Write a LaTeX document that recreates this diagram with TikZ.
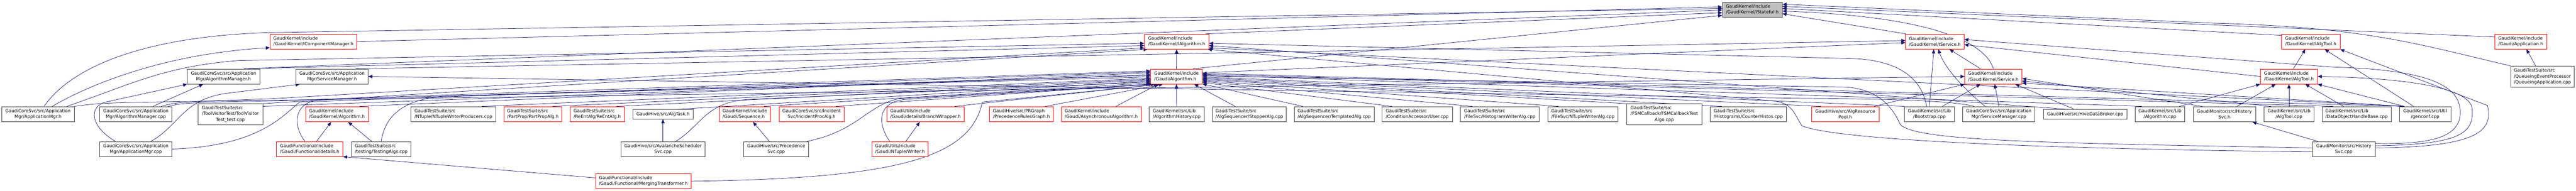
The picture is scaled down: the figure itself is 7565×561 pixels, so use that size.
\documentclass[tikz,border=0pt]{standalone}
\usepackage{fontspec}
\setmainfont{DejaVu Sans}
\usetikzlibrary{arrows.meta}
\pgfdeclarelayer{bgfill}
\pgfdeclarelayer{bg}
\pgfsetlayers{bgfill,bg,main}
\definecolor{navy}{RGB}{25,25,112}
\definecolor{bdr}{RGB}{64,64,64}
\definecolor{redb}{RGB}{255,0,0}
\definecolor{topfill}{RGB}{191,191,191}
\newcommand\lbl{\fontsize{13}{17}\selectfont}
\newcommand\gbox[7]{\node[#2, minimum width={(#5-#3)*1pt}, minimum height={(#6-#4)*1pt}] (#1) at ({(#3+#5)/2},{(#4+#6)/2}) {#7};}
\begin{document}
\begin{tikzpicture}[x=1pt,y=-1pt,
  bk/.style={draw=bdr, fill=white, line width=1pt, inner sep=0pt, font=\lbl, align=left},
  bkc/.style={bk, align=center},
  rd/.style={bk, draw=redb},
  rdc/.style={rd, align=center},
  topn/.style={bk, fill=topfill},
  edg/.style={draw=navy, line width=1.1pt, line join=round, -{Triangle[length=12pt,width=10pt]}}]
\begin{pgfonlayer}{bgfill}
\fill[white] (0,0) rectangle (7565,561);
\end{pgfonlayer}
\useasboundingbox (0,0) rectangle (7565,561);
% top
\gbox{stateful}{topn}{5058}{6}{5234}{50}{GaudiKernel/include\\/GaudiKernel/IStateful.h}
% row 2
\gbox{icm}{rd}{793}{100}{1048}{144.5}{GaudiKernel/include\\/GaudiKernel/IComponentManager.h}
\gbox{ialg}{rd}{3361}{100}{3550}{144.5}{GaudiKernel/include\\/GaudiKernel/IAlgorithm.h}
\gbox{isvc}{rd}{5596}{100}{5768}{144.5}{GaudiKernel/include\\/GaudiKernel/IService.h}
\gbox{itool}{rd}{6700}{100}{6872}{144.5}{GaudiKernel/include\\/GaudiKernel/IAlgTool.h}
\gbox{app}{rd}{7326}{100}{7479}{144.5}{GaudiKernel/include\\/Gaudi/Application.h}
% row 3
\gbox{algmgrh}{bkc}{550}{202.5}{763}{247}{GaudiCoreSvc/src/Application\\Mgr/AlgorithmManager.h}
\gbox{svcmgrh}{bkc}{869}{202.5}{1081}{247}{GaudiCoreSvc/src/Application\\Mgr/ServiceManager.h}
\gbox{galg}{rd}{3379}{202.5}{3531}{247}{GaudiKernel/include\\/Gaudi/Algorithm.h}
\gbox{svch}{rd}{5770}{202.5}{5938}{247}{GaudiKernel/include\\/GaudiKernel/Service.h}
\gbox{toolh}{rd}{6638}{202.5}{6806}{247}{GaudiKernel/include\\/GaudiKernel/AlgTool.h}
\gbox{qapp}{bk}{7373}{194}{7560}{256}{GaudiTestSuite/src\\/QueueingEventProcessor\\/QueueingApplication.cpp}
% row A
\gbox{apph}{bkc}{5}{313}{218}{358}{GaudiCoreSvc/src/Application\\Mgr/ApplicationMgr.h}
\gbox{algmgrcpp}{bkc}{293}{313}{505}{358}{GaudiCoreSvc/src/Application\\Mgr/AlgorithmManager.cpp}
\gbox{tvt}{bk}{581}{305}{772}{366}{\begin{tabular}{@{}l@{}}GaudiTestSuite/src\\/ToolVisitorTest/ToolVisitor\\\multicolumn{1}{@{}c@{}}{Test\_test.cpp}\end{tabular}}
\gbox{galgk}{rd}{897}{313}{1082}{358}{GaudiKernel/include\\/GaudiKernel/Algorithm.h}
\gbox{ntwp}{bk}{1207}{313}{1456}{358}{GaudiTestSuite/src\\/NTuple/NTupleWriterProducers.cpp}
\gbox{ppa}{rd}{1480}{313}{1650}{358}{GaudiTestSuite/src\\/PartProp/PartPropAlg.h}
\gbox{rea}{rd}{1674}{313}{1834}{358}{GaudiTestSuite/src\\/ReEntAlg/ReEntAlg.h}
\gbox{algtask}{bk}{1858}{322}{2036}{349.5}{GaudiHive/src/AlgTask.h}
\gbox{seq}{rd}{2112}{313}{2263}{358}{GaudiKernel/include\\/Gaudi/Sequence.h}
\gbox{ipa}{rdc}{2288}{313}{2479}{358}{GaudiCoreSvc/src/Incident\\Svc/IncidentProcAlg.h}
\gbox{bw}{rd}{2605}{313}{2831}{358}{GaudiUtils/include\\/Gaudi/details/BranchWrapper.h}
\gbox{prg}{rd}{2906}{313}{3093}{358}{GaudiHive/src/PRGraph\\/PrecedenceRulesGraph.h}
\gbox{async}{rd}{3117}{313}{3351}{358}{GaudiKernel/include\\/Gaudi/AsynchronousAlgorithm.h}
\gbox{ahist}{bk}{3375}{313}{3536}{358}{GaudiKernel/src/Lib\\/AlgorithmHistory.cpp}
\gbox{stopper}{bk}{3561}{313}{3777}{358}{GaudiTestSuite/src\\/AlgSequencer/StopperAlg.cpp}
\gbox{templ}{bk}{3801}{313}{4035}{358}{GaudiTestSuite/src\\/AlgSequencer/TemplatedAlg.cpp}
\gbox{user}{bk}{4059}{313}{4265}{358}{GaudiTestSuite/src\\/ConditionAccessor/User.cpp}
\gbox{hwa}{bk}{4289}{313}{4520}{358}{GaudiTestSuite/src\\/FileSvc/HistogramWriterAlg.cpp}
\gbox{ntwa}{bk}{4545}{313}{4752}{358}{GaudiTestSuite/src\\/FileSvc/NTupleWriterAlg.cpp}
\gbox{fsm}{bk}{4777}{305}{4998}{366}{\begin{tabular}{@{}l@{}}GaudiTestSuite/src\\/FSMCallback/FSMCallbackTest\\\multicolumn{1}{@{}c@{}}{Algo.cpp}\end{tabular}}
\gbox{counter}{bk}{5022}{313}{5246}{358}{GaudiTestSuite/src\\/Histograms/CounterHistos.cpp}
\gbox{arp}{rdc}{5320}{313}{5518}{358}{GaudiHive/src/AlgResource\\Pool.h}
\gbox{boot}{bkc}{5593}{313}{5739}{358}{GaudiKernel/src/Lib\\/Bootstrap.cpp}
\gbox{svcmgrcpp}{bkc}{5764}{313}{5976}{358}{GaudiCoreSvc/src/Application\\Mgr/ServiceManager.cpp}
\gbox{hdb}{bk}{6001}{322}{6246}{349.5}{GaudiHive/src/HiveDataBroker.cpp}
\gbox{algcpp}{bkc}{6270}{313}{6416}{358}{GaudiKernel/src/Lib\\/Algorithm.cpp}
\gbox{hsh}{bkc}{6441}{313}{6624}{358}{GaudiMonitor/src/History\\Svc.h}
\gbox{toolcpp}{bkc}{6649}{313}{6795}{358}{GaudiKernel/src/Lib\\/AlgTool.cpp}
\gbox{dohb}{bk}{6819}{313}{7022}{358}{GaudiKernel/src/Lib\\/DataObjectHandleBase.cpp}
\gbox{genconf}{bkc}{7047}{313}{7197}{358}{GaudiKernel/src/Util\\/genconf.cpp}
% row B
\gbox{appcpp}{bkc}{293}{416}{505}{460}{GaudiCoreSvc/src/Application\\Mgr/ApplicationMgr.cpp}
\gbox{details}{rd}{812}{416}{1007}{460}{GaudiFunctional/include\\/Gaudi/Functional/details.h}
\gbox{testing}{bk}{1032}{416}{1207}{460}{GaudiTestSuite/src\\/testing/TestingAlgs.cpp}
\gbox{avsched}{bkc}{1823}{416}{2071}{460}{GaudiHive/src/AvalancheScheduler\\Svc.cpp}
\gbox{precsvc}{bkc}{2184}{416}{2375}{460}{GaudiHive/src/Precedence\\Svc.cpp}
\gbox{writer}{rd}{2560}{416}{2726}{460}{GaudiUtils/include\\/Gaudi/NTuple/Writer.h}
\gbox{hscpp}{bkc}{6791}{416}{6975}{460}{GaudiMonitor/src/History\\Svc.cpp}
% row C
\gbox{mt}{rd}{1749}{510}{2029}{555}{GaudiFunctional/include\\/Gaudi/Functional/MergingTransformer.h}

\begin{pgfonlayer}{bg}
% to IStateful
\draw[edg] ([xshift=18pt]apph.north) .. controls (200,210) and (390,110) .. (780,96) -- (stateful.178);
\draw[edg] (icm.east) -- (stateful.175);
\draw[edg] ([xshift=60pt]algmgrh.north) -- (stateful.181);
\draw[edg] (ialg.15) -- (stateful.186);
\draw[edg] (galg.25) -- (stateful.191);
\draw[edg] (isvc.165) -- (stateful.-8);
\draw[edg] (svch.north) .. controls (5835,140) and (5720,50) .. (stateful.-3);
\draw[edg] (itool.168) -- (stateful.2);
\draw[edg] (app.170) -- (stateful.6);
\draw[edg] (qapp.north west) .. controls (7100,130) and (6950,80) .. (6500,68) -- (stateful.10);
% to IComponentManager
\draw[edg] ([xshift=42pt]apph.north) .. controls (260,250) and (480,158) .. (icm.188);
% to AlgorithmManager.h
\draw[edg] ([xshift=-60pt]appcpp.north) .. controls (262,370) and (262,312) .. (310,300) -- (algmgrh.south west);
\draw[edg] ([xshift=50pt]algmgrcpp.north) -- ([xshift=-60pt]algmgrh.south);
% to ServiceManager.h
\draw[edg] ([xshift=44pt]appcpp.north) .. controls (525,370) and (535,295) .. (660,275) -- ([xshift=12pt]svcmgrh.south west);
\draw[edg] ([xshift=-72pt]svcmgrcpp.north) .. controls (5740,298) and (5600,291) .. (5300,289) -- (svcmgrh.east);
% to GaudiKernel/Algorithm.h
\draw[edg] ([xshift=20pt]details.north) -- ([xshift=-17pt]galgk.south);
\draw[edg] ([xshift=-28pt]testing.north) -- ([xshift=33pt]galgk.south);
% to details.h
\draw[edg] (mt.176) -- (details.south east);
% small local edges
\draw[edg] (avsched.north) -- (algtask.south);
\draw[edg] ([xshift=-20pt]precsvc.north) -- ([xshift=24pt]seq.south);
\draw[edg] ([xshift=17pt]writer.north) -- ([xshift=-17pt]bw.south);
\draw[edg] ([xshift=-20pt]qapp.north) -- ([xshift=17pt]app.south);
\draw[edg] ([xshift=-76pt]hscpp.north) -- ([xshift=-10pt]hsh.south east);
% to AlgTool.h
\draw[edg] ([xshift=57pt]algcpp.north) -- (toolh.south west);
\draw[edg] ([xshift=37pt]hsh.north) -- ([xshift=-39pt]toolh.south);
\draw[edg] (toolcpp.north) -- (toolh.south);
\draw[edg] ([xshift=-38pt]dohb.north) -- ([xshift=48pt]toolh.south);
\draw[edg] ([xshift=-61pt]genconf.north) -- (toolh.south east);
\draw[edg] (hscpp.6) .. controls (7230,425) and (7265,390) .. (7260,320) .. controls (7255,255) and (7050,229) .. (toolh.east);
% to IAlgTool.h
\draw[edg] ([xshift=13pt]toolh.north) -- ([xshift=-16pt]itool.south);
\draw[edg] ([xshift=-34pt]genconf.north) -- ([xshift=41pt]itool.south);
\draw[edg] (hscpp.2) .. controls (7290,432) and (7320,380) .. (7305,310) -- (itool.south east);
% to IService.h
\draw[edg] (boot.north) -- ([xshift=-3pt]isvc.south);
\draw[edg] ([xshift=-40pt]svcmgrcpp.north) .. controls (5765,260) and (5712,200) .. ([xshift=10pt]isvc.south);
\draw[edg] ([xshift=-38pt]svch.north) -- ([xshift=43pt]isvc.south);
\draw[edg] (galg.8) -- (isvc.182);
\draw[edg] ([xshift=70pt]svcmgrh.north) -- (isvc.178);
\draw[edg] (toolh.west) -- (isvc.-6);
\draw[edg] (hscpp.10) .. controls (7150,425) and (7225,400) .. (7225,330) .. controls (7225,250) and (7130,205) .. (6850,197) -- (isvc.4);
% to Service.h
\draw[edg] (apph.north east) .. controls (300,302) .. (640,297) -- (svch.west);
\draw[edg] ([xshift=85pt]arp.north) -- (svch.south west);
\draw[edg] ([xshift=38pt]boot.north) -- ([xshift=-38pt]svch.south);
\draw[edg] (svcmgrcpp.north) -- ([xshift=4pt]svch.south);
\draw[edg] ([xshift=-31pt]hdb.north) -- ([xshift=-20pt]svch.south east);
\draw[edg] ([xshift=-65pt]hsh.north) -- (svch.-4);
\draw[edg] ([xshift=-53pt]toolcpp.north) -- (svch.-9);
\draw[edg] ([xshift=-61pt]genconf.north) -- (svch.-13);
% to IAlgorithm.h
\draw[edg] (galg.north) -- (ialg.south);
\draw[edg] ([xshift=72pt]algmgrh.north) -- (ialg.187);
\draw[edg] ([xshift=85pt]apph.north) .. controls (380,250) and (480,195) .. (700,178) -- (ialg.183);
\draw[edg] ([xshift=74pt]algmgrcpp.north) .. controls (520,300) .. (800,290) -- (ialg.191);
\draw[edg] (tvt.north east) -- (ialg.195);
\draw[edg] ([xshift=-8pt]boot.north) .. controls (5645,240) and (5590,178) .. (5440,172) -- (ialg.-3);
\draw[edg] ([xshift=-48pt]hdb.north) -- (ialg.-7);
\draw[edg] ([xshift=-61pt]genconf.north) -- (ialg.-11);
\draw[edg] (hscpp.185) .. controls (6200,440) and (5420,420) .. (5292,370) .. controls (5268,335) and (5266,300) .. (5200,296) -- (ialg.-14);
% to Gaudi/Algorithm.h from the left
\draw[edg] ([xshift=67pt]galgk.north) -- (galg.172);
\draw[edg] ([yshift=-8pt]tvt.north east) -- (galg.176);
\draw[edg] ([xshift=-14pt]details.north) .. controls (860,370) and (860,300) .. (940,293) -- (galg.178);
\draw[edg] (testing.north) .. controls (1130,350) and (1170,295) .. (1300,283) -- (galg.181);
\draw[edg] ([xshift=84pt]ntwp.north) -- (galg.184);
\draw[edg] (appcpp.east) .. controls (760,430) and (830,340) .. (880,300) -- (galg.170);
\draw[edg] ([xshift=95pt]algmgrcpp.north) .. controls (540,302) .. (820,296) -- (galg.168);
\draw[edg] ([xshift=58pt]ppa.north) -- (galg.186);
\draw[edg] ([xshift=57pt]rea.north) -- (galg.188);
\draw[edg] ([xshift=37pt]algtask.north) -- (galg.190);
\draw[edg] ([xshift=37pt]avsched.north) .. controls (2060,370) and (2070,300) .. (2200,292) -- (galg.192);
\draw[edg] ([xshift=56pt]seq.north) -- (galg.194);
\draw[edg] ([xshift=72pt]ipa.north) -- (galg.196);
\draw[edg] ([xshift=-6pt]precsvc.north east) .. controls (2520,385) and (2545,310) .. (2640,290) -- (galg.198);
\draw[edg] ([xshift=-30pt]writer.north) .. controls (2580,370) and (2570,300) .. (2660,292) -- (galg.200);
\draw[edg] ([xshift=86pt]bw.north) -- (galg.203);
\draw[edg] (mt.east) .. controls (2650,525) and (2850,460) .. (2885,300) -- (galg.206);
\draw[edg] ([xshift=71pt]prg.north) -- (galg.210);
\draw[edg] ([xshift=43pt]async.north) -- ([xshift=23pt]galg.south west);
\draw[edg] (ahist.north) -- (galg.south);
\draw[edg] ([xshift=-42pt]stopper.north) -- ([xshift=52pt]galg.south);
% to Gaudi/Algorithm.h from the right
\draw[edg] ([xshift=-92pt]templ.north) -- (galg.-16);
\draw[edg] ([xshift=-75pt]user.north) -- (galg.-13);
\draw[edg] ([xshift=-81pt]hwa.north) -- (galg.-11);
\draw[edg] ([xshift=-72pt]ntwa.north) -- (galg.-9);
\draw[edg] (fsm.north west) -- (galg.-7);
\draw[edg] ([xshift=-78pt]counter.north) -- (galg.-5);
\draw[edg] ([xshift=-72pt]arp.north) -- (galg.-3);
\draw[edg] (boot.north west) -- (galg.-1);
\draw[edg] (hscpp.178) .. controls (6000,420) and (5620,415) .. (5580,365) .. controls (5560,320) and (5520,262) .. (5420,256) -- (galg.1);
\draw[edg] ([xshift=-53pt]algcpp.north) -- (galg.3);
\draw[edg] ([xshift=-70pt]dohb.north) -- (galg.5);
\draw[edg] ([xshift=-61pt]genconf.north) -- (galg.7);
\end{pgfonlayer}
\end{tikzpicture}
\end{document}
